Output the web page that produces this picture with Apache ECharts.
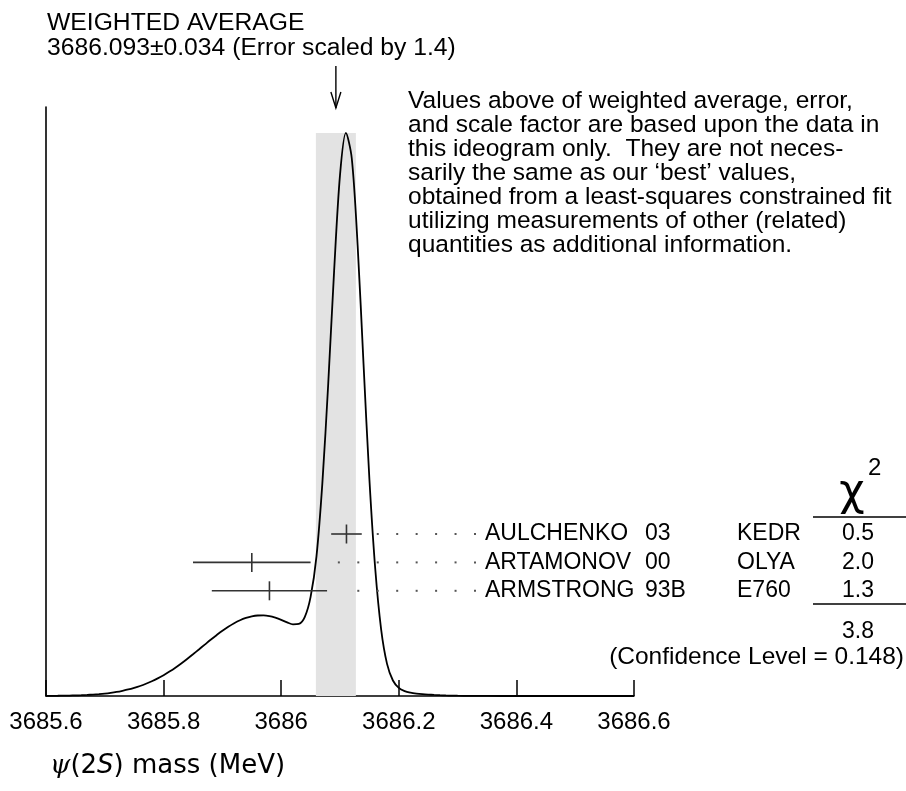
<!DOCTYPE html>
<html>
<head>
<meta charset="utf-8">
<title>psi(2S) mass ideogram</title>
<script src="https://cdn.jsdelivr.net/npm/echarts@6.0.0/dist/echarts.min.js"></script>
<style>
  html, body { margin: 0; padding: 0; background: #fff; }
  #chart { width: 906px; height: 791px; }
</style>
</head>
<body>
<div id="chart"></div>
<script>
// ---- Measurements entering the average ----
const names = ['AULCHENKO', 'ARTAMONOV', 'ARMSTRONG'];
const years = ['03', '00', '93B'];
const experiments = ['KEDR', 'OLYA', 'E760'];
const values = [3686.111, 3685.95, 3685.98];
const errors = [0.026, 0.10, 0.098];
const chi2 = ['0.5', '2.0', '1.3'];
const chi2Total = '3.8';
const confidenceLevel = '0.148';

// ---- Weighted average ----
const average = 3686.093;
const averageError = 0.034;
const scaleFactor = 1.4;

// ---- Ideogram curve (relative height, peak = 1), sampled every 0.01 MeV ----
const ideogramX = [
  3685.60, 3685.61, 3685.62, 3685.63, 3685.64, 3685.65, 3685.66, 3685.67, 3685.68, 3685.69,
  3685.70, 3685.71, 3685.72, 3685.73, 3685.74, 3685.75, 3685.76, 3685.77, 3685.78, 3685.79,
  3685.80, 3685.81, 3685.82, 3685.83, 3685.84, 3685.85, 3685.86, 3685.87, 3685.88, 3685.89,
  3685.90, 3685.91, 3685.92, 3685.93, 3685.94, 3685.95, 3685.96, 3685.97, 3685.98, 3685.99,
  3686.00, 3686.01, 3686.02, 3686.03, 3686.04, 3686.05, 3686.06, 3686.07, 3686.08, 3686.09,
  3686.10, 3686.11, 3686.12, 3686.13, 3686.14, 3686.15, 3686.16, 3686.17, 3686.18, 3686.19,
  3686.20, 3686.21, 3686.22, 3686.23, 3686.24, 3686.25, 3686.26, 3686.27, 3686.28, 3686.29,
  3686.30, 3686.32, 3686.35, 3686.40, 3686.50, 3686.60];
const ideogramY = [
  0.0002, 0.0003, 0.0004, 0.0006, 0.0008, 0.0011, 0.0014, 0.0019, 0.0026, 0.0034,
  0.0044, 0.0057, 0.0073, 0.0093, 0.0116, 0.0145, 0.0178, 0.0217, 0.0262, 0.0313,
  0.0370, 0.0434, 0.0503, 0.0578, 0.0658, 0.0741, 0.0826, 0.0912, 0.0998, 0.1080,
  0.1159, 0.1230, 0.1293, 0.1346, 0.1387, 0.1416, 0.1430, 0.1431, 0.1418, 0.1390,
  0.1353, 0.1308, 0.1272, 0.1279, 0.1400, 0.1760, 0.2480, 0.3780, 0.5550, 0.7550,
  0.9250, 1.0000, 0.9550, 0.8000, 0.5900, 0.3850, 0.2250, 0.1180, 0.0570, 0.0275,
  0.0144, 0.0087, 0.0060, 0.0044, 0.0033, 0.0025, 0.0019, 0.0014, 0.0010, 0.0007,
  0.0005, 0.0003, 0.0001, 0, 0, 0];

// ---- Axis ----
const tickValues = [3685.6, 3685.8, 3686.0, 3686.2, 3686.4, 3686.6];
const tickLabels = ['3685.6', '3685.8', '3686', '3686.2', '3686.4', '3686.6'];

const noteLines = [
  'Values above of weighted average, error,',
  'and scale factor are based upon the data in',
  'this ideogram only.  They are not neces-',
  'sarily the same as our \u2018best\u2019 values,',
  'obtained from a least-squares constrained fit',
  'utilizing measurements of other (related)',
  'quantities as additional information.'
];

// ---- Styling / layout constants ----
const FONT = '"Liberation Sans", Arial, Helvetica, sans-serif';
const FS_TITLE = 24.7;
const FS_NOTE = 24.5;
const FS_ROW = 23;
const FS_TICK = 24;
const INK = '#000';
const BAR_INK = '#333';
const Y_TOP = 1.046;              // top of the vertical axis, in ideogram units
const COL_NAME = 485, COL_YEAR = 645, COL_EXP = 737, COL_CHI = 858;
const LEADER_END = 475, LEADER_STEP = 19.45, LEADER_GAP = 12;

const chart = echarts.init(document.getElementById('chart'), null, { renderer: 'canvas' });

function txt(text, x, y, opts) {
  opts = opts || {};
  const align = opts.align || 'left';
  const va = opts.va || 'middle';
  return {
    type: 'text',
    x: x, y: y,
    silent: true,
    style: Object.assign({
      text: text,
      fill: INK,
      font: (opts.size || FS_ROW) + 'px ' + (opts.family || FONT),
      align: align, verticalAlign: va,
      textAlign: align, textVerticalAlign: va
    }, opts.extra || {})
  };
}

const peak = Math.max.apply(null, ideogramY);

const graphics = [
  txt('WEIGHTED AVERAGE', 47, 23, { size: FS_TITLE }),
  txt(average.toFixed(3) + '\u00b1' + averageError.toFixed(3) + ' (Error scaled by ' + scaleFactor + ')', 47, 48, { size: FS_TITLE }),
  // chi-square column header
  txt('\u03c7', 852, 494, { align: 'center', size: 44, family: '"DejaVu Sans", sans-serif' }),
  txt('2', 868, 468, { size: 24 }),
  { type: 'line', silent: true, shape: { x1: 813, y1: 517, x2: 906, y2: 517 }, style: { stroke: INK, lineWidth: 1.5 } },
  { type: 'line', silent: true, shape: { x1: 813, y1: 604, x2: 906, y2: 604 }, style: { stroke: INK, lineWidth: 1.5 } },
  txt(chi2Total, COL_CHI, 632, { align: 'center' }),
  txt('(Confidence Level = ' + confidenceLevel + ')', 904, 657, { align: 'right', size: 24.5 }),
  // axis title
  txt('{g|\u03c8}(2{i|S}) mass (MeV)', 50, 766, {
    size: 26, family: '"DejaVu Sans", sans-serif',
    extra: { rich: {
      g: { fontFamily: '"DejaVu Serif", serif', fontStyle: 'italic', fontSize: 26, fill: INK },
      i: { fontFamily: '"DejaVu Sans", sans-serif', fontStyle: 'italic', fontSize: 26, fill: INK }
    } }
  })
];
noteLines.forEach(function (line, i) {
  graphics.push(txt(line, 408, 101 + 24 * i, { size: FS_NOTE }));
});

const option = {
  animation: false,
  backgroundColor: '#fff',
  grid: { left: 46, right: 272, top: 107, bottom: 95, containLabel: false },
  xAxis: {
    type: 'value',
    min: 3685.6, max: 3686.6, interval: 0.2,
    axisLine: { show: true, onZero: false, lineStyle: { color: INK, width: 1.6 } },
    axisTick: { show: true, inside: true, length: 16, lineStyle: { color: INK, width: 1.5 } },
    axisLabel: {
      show: true, margin: 14, color: INK, fontSize: FS_TICK, fontFamily: FONT,
      showMinLabel: true, showMaxLabel: true,
      formatter: function (v) {
        let best = 0;
        tickValues.forEach(function (t, i) { if (Math.abs(t - v) < Math.abs(tickValues[best] - v)) best = i; });
        return tickLabels[best];
      }
    },
    splitLine: { show: false }
  },
  yAxis: [
    {
      type: 'value', min: 0, max: Y_TOP,
      axisLine: { show: true, lineStyle: { color: INK, width: 1.6 } },
      axisTick: { show: false }, axisLabel: { show: false }, splitLine: { show: false }
    },
    {
      // row positions of the individual measurements
      type: 'value', inverse: true, min: -15.035, max: 5.704, show: false
    }
  ],
  series: [
    {
      // band showing the weighted average +- its error
      type: 'custom', xAxisIndex: 0, yAxisIndex: 0, z: 1, clip: false, silent: true,
      data: [[average - averageError, average + averageError]],
      renderItem: function (params, api) {
        const a = api.coord([api.value(0), peak]);
        const b = api.coord([api.value(1), 0]);
        return { type: 'rect', shape: { x: a[0], y: a[1], width: b[0] - a[0], height: b[1] - a[1] },
                 style: { fill: '#e3e3e3' } };
      }
    },
    {
      type: 'line', xAxisIndex: 0, yAxisIndex: 0, z: 3, silent: true,
      data: ideogramX.map(function (x, i) { return [x, ideogramY[i]]; }),
      smooth: 0.3, showSymbol: false, symbol: 'none',
      lineStyle: { color: INK, width: 1.8 }
    },
    {
      // arrow marking the weighted average
      type: 'custom', xAxisIndex: 0, yAxisIndex: 0, z: 5, clip: false, silent: true,
      data: [[average]],
      renderItem: function (params, api) {
        const p = api.coord([api.value(0), Y_TOP]);
        return { type: 'group', children: [
          { type: 'line', shape: { x1: p[0], y1: p[1] - 41, x2: p[0], y2: p[1] + 1 }, style: { stroke: INK, lineWidth: 1.4 } },
          { type: 'polyline', shape: { points: [[p[0] - 5, p[1] - 15], [p[0], p[1] + 1], [p[0] + 5, p[1] - 15]] },
            style: { stroke: INK, lineWidth: 1.4, fill: null } }
        ] };
      }
    },
    {
      // measurements: error bars, leader dots and labels
      type: 'custom', xAxisIndex: 0, yAxisIndex: 1, z: 4, clip: false, silent: true,
      data: values.map(function (v, i) { return [v, errors[i], i]; }),
      renderItem: function (params, api) {
        const v = api.value(0), e = api.value(1), r = api.value(2);
        const lo = api.coord([v - e, r]), hi = api.coord([v + e, r]), mid = api.coord([v, r]);
        const y = mid[1];
        const kids = [
          { type: 'line', shape: { x1: lo[0], y1: y, x2: hi[0], y2: y }, style: { stroke: BAR_INK, lineWidth: 1.6 } },
          { type: 'line', shape: { x1: mid[0], y1: y - 9.5, x2: mid[0], y2: y + 9.5 }, style: { stroke: BAR_INK, lineWidth: 1.6 } }
        ];
        for (let x = LEADER_END; x >= hi[0] + LEADER_GAP; x -= LEADER_STEP) {
          kids.push({ type: 'rect', shape: { x: x - 1, y: y - 1, width: 2, height: 2 }, style: { fill: '#555' } });
        }
        kids.push(txt(names[r], COL_NAME, y));
        kids.push(txt(years[r], COL_YEAR, y));
        kids.push(txt(experiments[r], COL_EXP, y));
        kids.push(txt(chi2[r], COL_CHI, y, { align: 'center' }));
        return { type: 'group', children: kids };
      }
    }
  ],
  graphic: { elements: graphics }
};

chart.setOption(option);
</script>
</body>
</html>
